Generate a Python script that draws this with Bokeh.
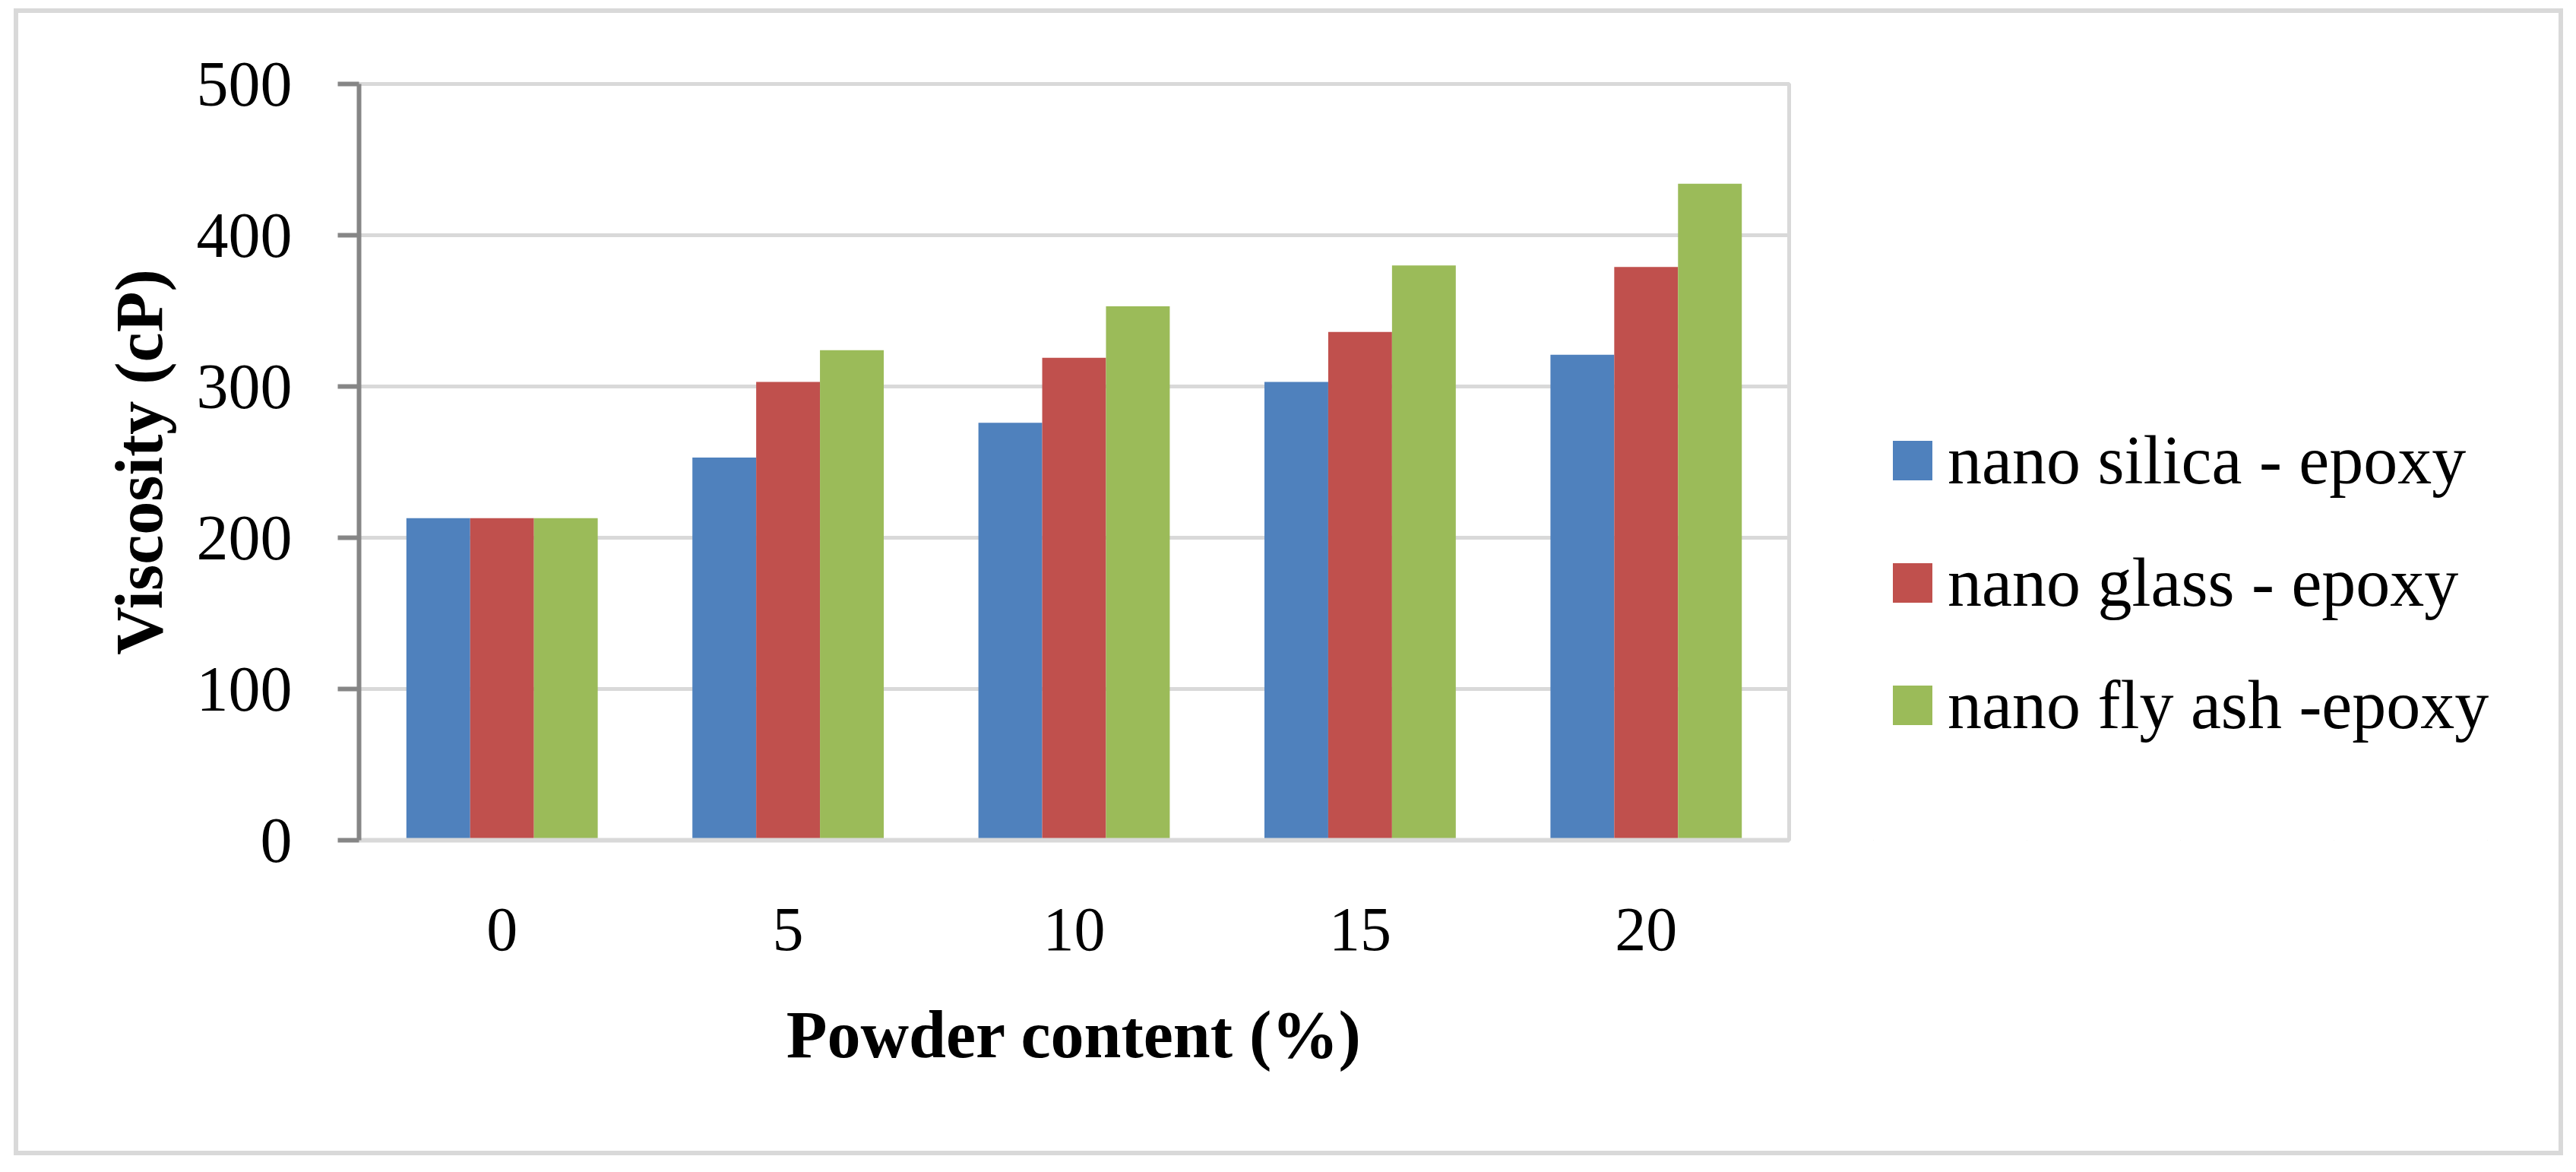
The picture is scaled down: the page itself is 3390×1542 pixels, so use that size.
from bokeh.plotting import figure
from bokeh.layouts import row
from bokeh.models import (ColumnDataSource, FactorRange, Range1d, FixedTicker,
                          Legend, LegendItem)
from bokeh.transform import dodge
from bokeh.embed import file_html
from bokeh.resources import INLINE

# ---- data ----
categories = ["0", "5", "10", "15", "20"]
silica = [213, 253, 276, 303, 321]
glass = [213, 303, 319, 336, 379]
flyash = [213, 324, 353, 380, 434]
series_names = ["nano silica - epoxy", "nano glass - epoxy", "nano fly ash -epoxy"]
y_ticks = [0, 100, 200, 300, 400, 500]

colors = ["#4F81BD", "#C0504D", "#9BBB59"]
FONT = "Liberation Serif"

H = 1526
W_MAIN, W_LEG = 2364, 1010
FL, FR, FT, FB = 472, 2354, 110, 1105  # frame edges in canvas px

src = ColumnDataSource(dict(cat=categories, silica=silica, glass=glass, flyash=flyash))
fields = ["silica", "glass", "flyash"]

# outer chart border drawn as CSS background lines on the figure hosts
G = "linear-gradient(#D9D9D9,#D9D9D9)"
bg_main = ", ".join([
    f"{G} 18px 11px / {W_MAIN - 18}px 6px no-repeat",
    f"{G} 18px 1514px / {W_MAIN - 18}px 6px no-repeat",
    f"{G} 18px 11px / 6px 1509px no-repeat",
    "white",
])
bg_leg = ", ".join([
    f"{G} 0px 11px / {W_LEG - 1}px 6px no-repeat",
    f"{G} 0px 1514px / {W_LEG - 1}px 6px no-repeat",
    f"{G} {W_LEG - 7}px 11px / 6px 1509px no-repeat",
    "white",
])

p = figure(width=W_MAIN, height=H, output_backend="svg", toolbar_location=None,
           x_range=FactorRange(factors=categories), y_range=Range1d(0, 500),
           min_border_left=FL, min_border_right=W_MAIN - FR,
           min_border_top=FT, min_border_bottom=H - FB,
           styles={"background": bg_main})
p.background_fill_color = "white"
p.border_fill_color = None
p.outline_line_color = "#D9D9D9"
p.outline_line_width = 5

bw = 0.223
for off, col, name in zip([-bw, 0, bw], colors, fields):
    p.vbar(x=dodge("cat", off, range=p.x_range), top=name, width=bw,
           source=src, fill_color=col, line_color=None)

# grid
p.xgrid.grid_line_color = None
p.ygrid.grid_line_color = "#D9D9D9"
p.ygrid.grid_line_width = 5
p.yaxis.ticker = FixedTicker(ticks=y_ticks)

# y axis
ya = p.yaxis[0]
ya.axis_line_color = "#868686"
ya.axis_line_width = 6
ya.major_tick_line_color = "#868686"
ya.major_tick_line_width = 6
ya.major_tick_out = 28
ya.major_tick_in = 0
ya.minor_tick_line_color = None
ya.major_label_text_font = FONT
ya.major_label_text_font_size = "84px"
ya.major_label_text_color = "black"
ya.major_label_standoff = 60
ya.axis_label = "Viscosity (cP)"
ya.axis_label_text_font = FONT
ya.axis_label_text_font_style = "bold"
ya.axis_label_text_font_size = "88px"
ya.axis_label_text_color = "black"
ya.axis_label_standoff = 24

# x axis
xa = p.xaxis[0]
xa.axis_line_color = "#D9D9D9"
xa.axis_line_width = 6
xa.major_tick_line_color = None
xa.minor_tick_line_color = None
xa.major_label_text_font = FONT
xa.major_label_text_font_size = "82px"
xa.major_label_text_color = "black"
xa.major_label_standoff = 84
xa.axis_label = "Powder content (%)"
xa.axis_label_text_font = FONT
xa.axis_label_text_font_style = "bold"
xa.axis_label_text_font_size = "88px"
xa.axis_label_text_color = "black"
xa.axis_label_standoff = 60

# legend figure (right-hand part of the chart); its zero-size bars lie
# outside its view and only serve as the legend's colour keys
pl = figure(width=W_LEG, height=H, output_backend="svg", toolbar_location=None,
            x_range=FactorRange(factors=categories), y_range=Range1d(600, 700),
            x_axis_location=None, y_axis_location=None,
            min_border_left=0, min_border_right=0,
            min_border_top=FT, min_border_bottom=H - FB,
            styles={"background": bg_leg})
pl.background_fill_color = None
pl.border_fill_color = None
pl.outline_line_color = None
pl.grid.visible = False

leg_renderers = [pl.vbar(x="cat", top=name, bottom=name, width=0.0005, source=src,
                         fill_color=c, line_color=None)
                 for c, name in zip(colors, fields)]
items = [LegendItem(label=n, renderers=[r], index=0)
         for n, r in zip(series_names, leg_renderers)]
legend = Legend(items=items, location=(120, 123))
legend.glyph_width = 65
legend.glyph_height = 65
legend.label_height = 110
legend.label_standoff = 14
legend.label_text_font = FONT
legend.label_text_font_size = "90px"
legend.label_text_color = "black"
legend.spacing = 51
legend.padding = 0
legend.margin = 0
legend.border_line_alpha = 0
legend.background_fill_alpha = 0
pl.add_layout(legend, "center")

layout = row(p, pl, spacing=0)
open("out.html", "w").write(file_html(layout, INLINE))
